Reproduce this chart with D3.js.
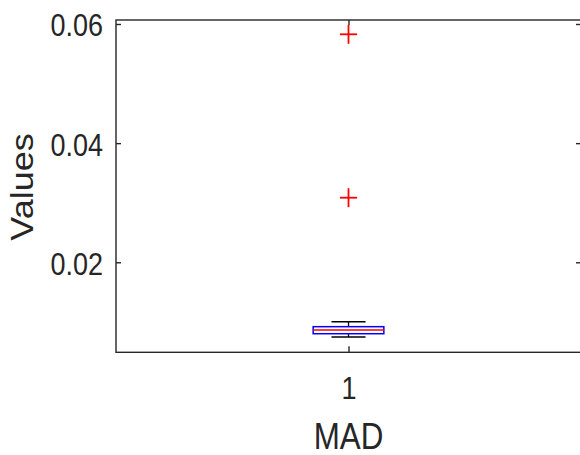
<!DOCTYPE html>
<html>
<head>
<meta charset="utf-8">
<script src="https://cdn.jsdelivr.net/npm/d3@7"></script>
<style>
  html, body { margin: 0; padding: 0; background: #fff; }
  svg { display: block; }
  text { font-family: "Liberation Sans", Arial, Helvetica, sans-serif; fill: #262626; }
</style>
</head>
<body>
<svg id="chart" width="580" height="455"></svg>
<script>
// Box plot summary of the MAD values
const groups = ["1"];
const whiskerLow = [0.00746];
const quartile1 = [0.00801];
const medians = [0.00864];
const quartile3 = [0.00919];
const whiskerHigh = [0.01003];
const outliers = [[0.05827, 0.03084]];
const yTicks = [0.02, 0.04, 0.06];
const yTickLabels = ["0.02", "0.04", "0.06"];
const yLabel = "Values";
const xLabel = "MAD";

const plotLeft = 116, plotRight = 581, plotTop = 20, plotBottom = 352.3;
const squeeze = 0.87; // glyphs are narrower than they are tall

const svg = d3.select("#chart");

const x = d3.scaleLinear().domain([0.5, groups.length + 0.5]).range([plotLeft, plotRight]);
const y = d3.scaleLinear().domain([0.00489, 0.06067]).range([plotBottom, plotTop]);

const axisColor = "#262626";

// frame
svg.append("rect")
  .attr("x", plotLeft).attr("y", plotTop)
  .attr("width", plotRight - plotLeft).attr("height", plotBottom - plotTop)
  .attr("fill", "none").attr("stroke", axisColor).attr("stroke-width", 1.4);

// y axis (ticks point inward)
const yAxis = d3.axisLeft(y).tickValues(yTicks).tickSizeInner(-5).tickSizeOuter(0)
  .tickFormat((d, i) => yTickLabels[i]);
const gy = svg.append("g").attr("transform", `translate(${plotLeft},0)`).call(yAxis);
gy.select(".domain").remove();
gy.selectAll(".tick line").attr("stroke", axisColor).attr("stroke-width", 1.4);
gy.selectAll(".tick text")
  .attr("x", null).attr("dy", null)
  .attr("text-anchor", "end")
  .attr("font-size", 31)
  .attr("fill", "#262626")
  .attr("transform", `translate(-13,12) scale(${squeeze},1)`);

// right side ticks
const yAxisR = d3.axisRight(y).tickValues(yTicks).tickSizeInner(-5).tickSizeOuter(0).tickFormat("");
const gyr = svg.append("g").attr("transform", `translate(${plotRight},0)`).call(yAxisR);
gyr.select(".domain").remove();
gyr.selectAll(".tick line").attr("stroke", axisColor).attr("stroke-width", 1.4);

// x axis ticks (bottom and top, inward)
const xAxis = d3.axisBottom(x).tickValues(groups.map((d, i) => i + 1)).tickSizeInner(-6).tickSizeOuter(0)
  .tickFormat((d, i) => groups[i]);
const gx = svg.append("g").attr("transform", `translate(0,${plotBottom})`).call(xAxis);
gx.select(".domain").remove();
gx.selectAll(".tick line").attr("stroke", axisColor).attr("stroke-width", 1.4);
gx.selectAll(".tick text")
  .attr("y", null).attr("dy", null)
  .attr("text-anchor", "middle")
  .attr("font-size", 31)
  .attr("fill", "#262626")
  .attr("transform", `translate(0,47) scale(${squeeze},1)`);

const xAxisT = d3.axisTop(x).tickValues(groups.map((d, i) => i + 1)).tickSizeInner(-5).tickSizeOuter(0).tickFormat("");
const gxt = svg.append("g").attr("transform", `translate(0,${plotTop})`).call(xAxisT);
gxt.select(".domain").remove();
gxt.selectAll(".tick line").attr("stroke", axisColor).attr("stroke-width", 1.4);

// boxes
const boxHalf = 0.076, capHalf = 0.0366, markHalf = 0.0185;
const plot = svg.append("g");
groups.forEach((g, i) => {
  const cx = i + 1;
  // whiskers
  plot.append("line")
    .attr("x1", x(cx)).attr("x2", x(cx))
    .attr("y1", y(whiskerHigh[i])).attr("y2", y(quartile3[i]))
    .attr("stroke", "#000").attr("stroke-width", 1.3);
  plot.append("line")
    .attr("x1", x(cx)).attr("x2", x(cx))
    .attr("y1", y(quartile1[i])).attr("y2", y(whiskerLow[i]))
    .attr("stroke", "#000").attr("stroke-width", 1.3);
  [whiskerHigh[i], whiskerLow[i]].forEach(v => {
    plot.append("line")
      .attr("x1", x(cx - capHalf)).attr("x2", x(cx + capHalf))
      .attr("y1", y(v)).attr("y2", y(v))
      .attr("stroke", "#000").attr("stroke-width", 1.4);
  });
  // box
  plot.append("rect")
    .attr("x", x(cx - boxHalf)).attr("y", y(quartile3[i]))
    .attr("width", x(cx + boxHalf) - x(cx - boxHalf))
    .attr("height", y(quartile1[i]) - y(quartile3[i]))
    .attr("fill", "none").attr("stroke", "#0000ff").attr("stroke-width", 1.5);
  // median
  plot.append("line")
    .attr("x1", x(cx - boxHalf)).attr("x2", x(cx + boxHalf))
    .attr("y1", y(medians[i])).attr("y2", y(medians[i]))
    .attr("stroke", "#ff0000").attr("stroke-width", 1.5);
  // outliers
  outliers[i].forEach(v => {
    plot.append("line")
      .attr("x1", x(cx - markHalf)).attr("x2", x(cx + markHalf))
      .attr("y1", y(v)).attr("y2", y(v))
      .attr("stroke", "#ff0000").attr("stroke-width", 1.8);
    plot.append("line")
      .attr("x1", x(cx)).attr("x2", x(cx))
      .attr("y1", y(v) - 9.5).attr("y2", y(v) + 9.5)
      .attr("stroke", "#ff0000").attr("stroke-width", 1.8);
  });
});

// axis titles
svg.append("text")
  .attr("text-anchor", "middle")
  .attr("font-size", 36)
  .attr("transform", `translate(33,187) scale(${squeeze},1) rotate(-90)`)
  .text(yLabel);

svg.append("text")
  .attr("text-anchor", "middle")
  .attr("font-size", 36)
  .attr("transform", `translate(${x(1)},449) scale(${squeeze},1)`)
  .text(xLabel);
</script>
</body>
</html>
